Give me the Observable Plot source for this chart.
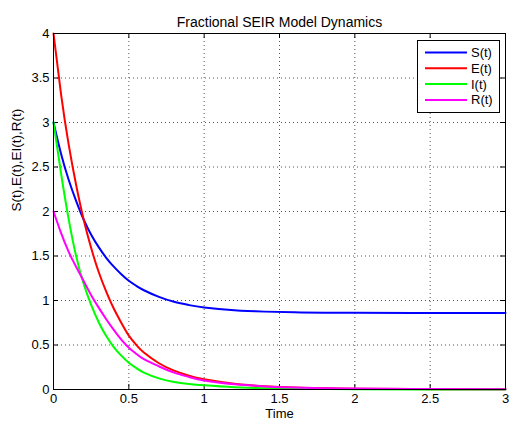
<!DOCTYPE html>
<html>
<head>
<meta charset="utf-8">
<script src="https://cdn.jsdelivr.net/npm/d3@7"></script>
<script src="https://cdn.jsdelivr.net/npm/@observablehq/plot@0.6"></script>
<style>
  html, body { margin: 0; padding: 0; background: #fff; }
  svg { display: block; }
</style>
</head>
<body>
<div id="chart"></div>
<script>
const title = "Fractional SEIR Model Dynamics";
const xLabel = "Time";
const yLabel = "S(t),E(t),EI(t),R(t)";
const seriesNames = ["S(t)", "E(t)", "I(t)", "R(t)"];
const seriesColors = ["#0000ff", "#ff0000", "#00ff00", "#ff00ff"];
const xTicks = [0, 0.5, 1, 1.5, 2, 2.5, 3];
const yTicks = [0, 0.5, 1, 1.5, 2, 2.5, 3, 3.5, 4];

const time = [0, 0.05, 0.1, 0.15, 0.2, 0.25, 0.3, 0.35, 0.4, 0.45, 0.5, 0.55, 0.6, 0.7, 0.8, 0.9, 1.0, 1.2, 1.4, 1.6, 1.8, 2.0, 2.5, 3.0];
const S = [3.0, 2.65, 2.36, 2.12, 1.91, 1.74, 1.60, 1.48, 1.38, 1.295, 1.222, 1.164, 1.115, 1.04, 0.985, 0.948, 0.921, 0.89, 0.875, 0.867, 0.863, 0.862, 0.86, 0.86];
const E = [4.0, 3.32, 2.76, 2.30, 1.91, 1.59, 1.32, 1.10, 0.91, 0.75, 0.605, 0.50, 0.415, 0.295, 0.212, 0.155, 0.115, 0.065, 0.037, 0.022, 0.014, 0.009, 0.004, 0.002];
const I = [3.0, 2.43, 1.92, 1.50, 1.19, 0.95, 0.755, 0.60, 0.477, 0.38, 0.30, 0.24, 0.19, 0.125, 0.085, 0.063, 0.048, 0.026, 0.014, 0.008, 0.005, 0.003, 0.001, 0.0005];
const R = [2.0, 1.76, 1.55, 1.38, 1.22, 1.06, 0.92, 0.79, 0.67, 0.56, 0.47, 0.40, 0.34, 0.26, 0.19, 0.14, 0.10, 0.058, 0.035, 0.022, 0.015, 0.01, 0.005, 0.003];

const seriesValues = [S, E, I, R];
const rows = [];
seriesValues.forEach((vals, k) => {
  vals.forEach((v, i) => rows.push({series: seriesNames[k], t: time[i], v}));
});

const W = 509, H = 423;
const mL = 53, mR = 4, mT = 33, mB = 34;
const frameW = W - mL - mR, frameH = H - mT - mB;
const font = "'Liberation Sans', Arial, Helvetica, sans-serif";
const tickLen = 5;

const plot = Plot.plot({
  width: W,
  height: H,
  marginLeft: mL,
  marginRight: mR,
  marginTop: mT,
  marginBottom: mB,
  style: {fontFamily: font, fontSize: "13px", color: "#000", background: "#fff", overflow: "visible"},
  x: {domain: [0, 3]},
  y: {domain: [0, 4]},
  color: {domain: seriesNames, range: seriesColors},
  marks: [
    // dotted grid
    Plot.ruleX(xTicks.slice(1, -1), {x: d => d, stroke: "#555", strokeWidth: 1, strokeDasharray: "1,3"}),
    Plot.ruleY(yTicks.slice(1, -1), {y: d => d, stroke: "#555", strokeWidth: 1, strokeDasharray: "1,3"}),
    // inward ticks on all four sides
    Plot.tickX(xTicks, {x: d => d, insetTop: frameH - tickLen, stroke: "#000"}),
    Plot.tickX(xTicks, {x: d => d, insetBottom: frameH - tickLen, stroke: "#000"}),
    Plot.tickY(yTicks, {y: d => d, insetRight: frameW - tickLen, stroke: "#000"}),
    Plot.tickY(yTicks, {y: d => d, insetLeft: frameW - tickLen, stroke: "#000"}),
    // tick labels
    Plot.axisX(xTicks, {tickSize: 0, tickPadding: 4, tickFormat: d => String(d), label: null, fontSize: 13}),
    Plot.axisY(yTicks, {tickSize: 0, tickPadding: 4, tickFormat: d => String(d), label: null, fontSize: 13}),
    // curves
    Plot.line(rows, {x: "t", y: "v", z: "series", stroke: "series", strokeWidth: 2, curve: "natural"}),
    Plot.frame({stroke: "#000", strokeWidth: 1}),
    // title and axis titles
    Plot.text([title], {frameAnchor: "top", dy: -16, fontSize: 14, text: d => d}),
    Plot.text([xLabel], {frameAnchor: "bottom", dy: 28.5, fontSize: 13, text: d => d}),
    Plot.text([yLabel], {frameAnchor: "left", dx: -37, rotate: -90, fontSize: 13.5, text: d => d})
  ]
});

document.getElementById("chart").appendChild(plot);

// legend box (top-right, inside axes)
const svg = d3.select(plot);
const lg = svg.append("g").attr("transform", "translate(417,40)");
lg.append("rect").attr("x", 0.5).attr("y", 0.5).attr("width", 82).attr("height", 72)
  .attr("fill", "#fff").attr("stroke", "#000").attr("stroke-width", 1);
seriesNames.forEach((name, i) => {
  const y = 12.5 + i * 15.8;
  lg.append("line").attr("x1", 8).attr("x2", 50).attr("y1", y).attr("y2", y)
    .attr("stroke", seriesColors[i]).attr("stroke-width", 2);
  lg.append("text").attr("x", 54).attr("y", y).attr("dy", "0.35em")
    .attr("text-anchor", "start")
    .attr("font-family", font).attr("font-size", 13).attr("fill", "#000").text(name);
});
</script>
</body>
</html>
